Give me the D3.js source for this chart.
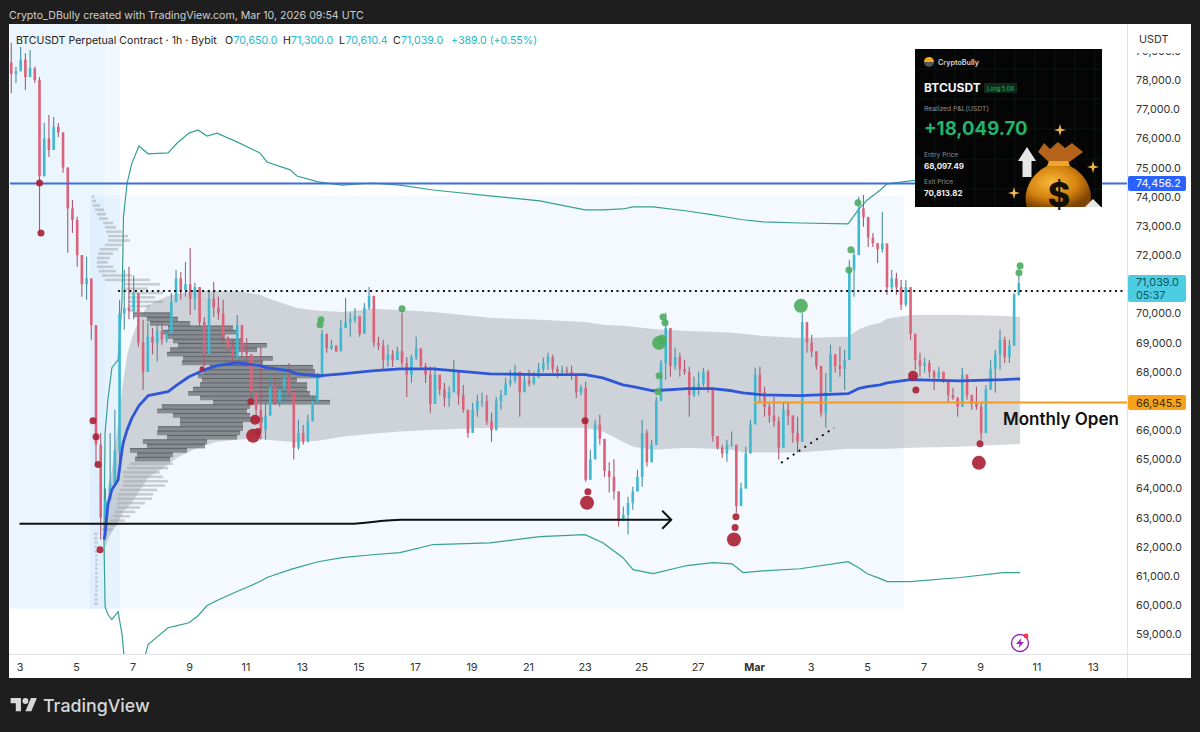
<!DOCTYPE html>
<html lang="en">
<head>
<meta charset="utf-8">
<script src="https://d3js.org/d3.v7.min.js"></script>
<style>
  html, body { margin: 0; padding: 0; background: #1e1e1e; }
  svg { display: block; font-family: Inter, "Noto Sans", sans-serif; }
</style>
</head>
<body>
<div id="chart"></div>
<script>
// prices in thousands of USDT, days counted from Feb 1 = 1 (so Mar 1 = 29)
const firstCandleDay = 2 + 17 / 24, candleStepHours = 4, firstOpen = 78.6;
const candleHigh = [
  79.27,78.45,79.13,78.92,79.03,78.45,78.1,76.53,76.8,76.73,
  76.53,76.22,75.0,73.89,73.31,71.8,71.94,71.0,68.75,65.9,
  64.0,65.9,66.7,70.47,71.5,71.6,71.3,70.0,69.78,69.68,
  69.5,69.6,69.68,69.44,70.7,71.49,71.42,71.77,72.25,71.05,
  70.91,69.88,70.81,71.08,70.57,70.47,69.2,69.1,69.95,69.1,
  69.16,68.41,67.28,68.85,67.04,67.96,67.9,67.73,68.17,68.3,
  67.28,66.36,66.18,66.53,67.14,67.96,69.44,69.1,69.1,68.9,
  69.78,70.53,70.02,70.19,69.85,70.36,70.91,70.47,69.2,69.1,
  68.93,68.75,68.86,70.02,68.51,68.58,69.2,68.51,68.3,68.17,
  68.17,67.9,67.62,67.5,68.41,67.9,67.55,66.6,66.94,67.21,
  67.28,67.21,66.6,67.14,67.38,67.8,68.07,68.24,67.83,67.9,
  68.07,68.0,68.3,68.48,68.65,68.58,68.21,68.21,68.17,68.21,
  67.73,67.55,67.66,65.33,66.36,66.53,65.67,64.9,65.0,63.86,
  63.38,63.72,64.06,64.64,66.36,66.01,65.67,67.14,68.41,70.02,
  68.75,68.82,68.65,68.41,68.17,67.83,68.0,68.14,68.07,67.28,
  65.67,65.5,65.67,65.95,65.43,64.2,65.43,66.36,68.14,68.17,
  67.49,66.94,67.14,66.46,66.94,66.94,66.46,66.46,70.02,69.54,
  69.27,68.51,68.17,67.96,68.93,68.51,68.86,68.75,71.84,72.18,
  74.0,74.06,73.31,72.76,72.42,73.48,72.28,71.49,71.39,71.15,
  71.15,70.7,69.1,68.65,68.48,68.41,68.07,68.17,68.0,67.62,
  67.45,67.14,68.14,67.73,67.21,67.49,66.94,67.55,68.41,68.75,
  69.44,69.2,69.1,70.7,71.3];
const candleLow = [
  77.55,77.9,78.34,77.66,78.34,77.9,72.76,74.82,75.36,75.84,
  76.05,74.82,72.08,72.76,71.6,70.57,70.47,69.1,64.75,62.25,
  62.6,63.6,64.75,64.64,69.44,69.8,69.8,68.86,67.38,68.17,
  68.6,68.35,68.93,69.0,69.34,70.37,70.47,70.57,69.95,70.12,
  69.54,68.17,69.44,69.88,69.78,69.0,68.65,68.3,68.51,68.51,
  68.17,67.04,66.46,65.67,65.67,66.8,66.87,66.8,66.94,67.14,
  64.99,65.33,65.5,66.01,66.36,66.94,67.96,68.65,68.75,68.68,
  69.0,69.54,69.2,69.68,69.2,69.78,70.12,68.86,68.75,68.07,
  68.17,68.17,68.41,68.17,67.14,67.62,68.41,68.07,67.62,66.6,
  67.28,67.2,66.8,66.8,67.38,66.87,66.6,65.74,66.08,66.46,
  66.8,66.18,65.6,66.26,66.7,67.28,67.5,67.62,66.46,67.38,
  67.5,67.55,67.9,68.0,68.07,67.97,67.8,67.9,67.9,67.73,
  67.11,67.2,64.23,64.3,65.15,65.5,64.4,63.86,63.62,62.7,
  62.93,62.42,63.27,64.06,64.06,64.75,65.2,65.67,67.14,67.73,
  67.83,68.07,67.83,67.9,66.46,67.14,67.2,67.5,67.28,65.6,
  65.33,65.05,64.92,65.43,63.17,63.45,64.2,65.23,66.25,66.94,
  66.46,66.25,66.12,64.99,65.78,66.18,65.57,65.23,66.36,68.65,
  68.51,68.07,66.46,66.08,67.49,67.97,67.83,67.38,68.65,70.57,
  72.18,72.97,72.28,72.28,71.73,72.08,70.64,70.81,70.64,70.12,
  70.23,69.1,68.07,67.83,67.97,67.8,67.38,67.73,67.62,66.94,
  67.04,66.46,67.14,67.04,66.7,66.7,65.67,65.9,67.38,67.28,
  68.07,68.3,68.3,69.34,70.61];
const candleClose = [
  78.2,78.3,78.7,78.1,78.4,78.0,74.7,76.0,75.6,76.4,
  76.2,75.0,73.6,73.2,72.0,71.0,71.2,69.6,65.5,63.0,
  63.6,64.2,65.3,70.0,70.2,70.1,70.7,69.0,68.0,69.2,
  69.0,69.4,69.1,69.3,70.4,71.2,70.8,71.0,70.5,70.9,
  69.7,68.6,70.5,70.2,70.0,69.2,68.8,68.5,69.6,68.7,
  68.6,67.3,66.7,66.0,66.5,67.5,67.0,67.4,67.8,67.3,
  65.4,65.9,65.6,66.3,67.0,67.8,69.3,68.8,68.9,68.7,
  69.5,69.7,69.8,69.9,69.3,70.2,70.6,69.0,68.9,68.4,
  68.6,68.4,68.7,68.3,67.9,68.5,68.8,68.2,67.9,66.9,
  67.9,67.4,67.1,67.3,68.0,67.2,66.7,65.9,66.7,67.0,
  67.0,66.3,66.0,67.0,67.2,67.6,67.7,68.0,67.3,67.7,
  67.6,67.8,68.1,68.3,68.5,68.1,68.0,68.05,68.0,67.9,
  67.3,67.45,64.3,65.0,66.2,65.7,64.6,64.4,63.9,62.9,
  63.1,63.5,63.9,64.4,65.9,64.9,65.5,67.0,68.3,69.5,
  68.2,68.5,68.1,68.0,67.2,67.5,67.6,68.0,67.4,65.8,
  65.4,65.2,65.5,65.5,63.4,64.0,65.2,66.2,67.9,67.3,
  66.8,66.5,66.3,65.4,66.7,66.5,65.9,65.6,69.7,69.0,
  68.7,68.2,66.6,67.3,68.6,68.2,68.1,68.4,71.5,72.0,
  73.6,73.3,72.6,72.4,72.2,72.4,70.9,71.2,70.9,70.3,
  70.9,69.3,68.4,68.2,68.3,68.0,67.8,68.0,67.7,67.2,
  67.1,66.8,67.9,67.2,66.9,66.8,65.9,67.4,68.1,68.6,
  69.1,68.5,68.9,70.65,71.039];

// anchored VWAP and its bands, all sampled on the same days
const bandDays = [5.99,6.03,6.13,6.27,6.49,6.63,6.68,6.81,6.98,7.23,7.55,8.26,8.58,9.0,9.32,9.64,9.99,10.7,11.51,11.76,12.58,12.82,13.57,14.42,15.48,16.47,17.64,19.65,21.42,23.02,23.65,24.36,24.72,25.43,26.63,27.55,28.22,28.61,29.32,30.63,32.33,32.69,33.01,33.47,33.71,34.53,36.3,37.82,38.42];
const vwap = [62.25,62.42,63.45,63.96,64.3,65.33,65.6,66.01,66.42,66.84,67.18,67.32,67.55,67.83,67.97,68.1,68.21,68.31,68.21,68.14,68.03,67.93,67.86,67.93,68.03,68.1,68.1,67.93,67.9,67.9,67.79,67.55,67.49,67.35,67.42,67.42,67.35,67.28,67.21,67.18,67.25,67.42,67.49,67.55,67.62,67.73,67.69,67.73,67.76];
const innerUpper = [62.25,62.59,63.96,64.64,66.18,67.38,67.73,68.58,69.16,69.78,70.29,70.6,70.67,70.74,70.77,70.77,70.77,70.77,70.64,70.53,70.26,70.19,70.09,70.05,70.16,70.12,70.05,69.85,69.78,69.71,69.61,69.58,69.54,69.47,69.4,69.37,69.34,69.3,69.23,69.16,69.2,69.44,69.58,69.68,69.82,69.95,69.95,69.92,69.88];
const innerLower = [62.25,61.97,62.25,62.52,62.86,63.1,63.21,63.34,63.51,63.89,64.37,64.82,65.05,65.26,65.4,65.5,65.6,65.67,65.71,65.67,65.6,65.6,65.64,65.77,65.88,65.95,66.01,66.08,66.08,66.08,65.95,65.6,65.43,65.33,65.4,65.36,65.33,65.23,65.23,65.23,65.36,65.36,65.36,65.36,65.36,65.4,65.43,65.5,65.53];
const outerUpper = [62.25,65.91,67.04,68.14,68.41,70.47,73.31,74.47,75.16,75.74,75.47,75.5,75.84,76.18,76.29,76.08,76.18,75.88,75.5,75.19,74.92,74.71,74.51,74.4,74.47,74.4,74.23,74.03,73.86,73.55,73.55,73.58,73.65,73.65,73.51,73.38,73.27,73.21,73.14,73.1,73.07,73.55,73.89,74.23,74.44,74.54,74.71,74.85,74.88];
const outerLower = [62.25,59.95,59.68,59.51,59.78,58.99,58.48,56.77,56.77,57.45,58.65,59.23,59.3,59.4,59.64,59.99,60.16,60.47,60.81,60.95,61.22,61.29,61.49,61.63,61.73,61.8,62.08,62.14,62.35,62.42,62.14,61.63,61.22,61.08,61.36,61.46,61.42,61.12,61.18,61.25,61.49,61.29,61.08,60.91,60.81,60.81,60.95,61.12,61.12];

// volume profile rows: price of the row, and the days its bar runs between
const profilePrice = [74.0,73.85,73.7,73.55,73.4,73.25,73.1,72.95,72.8,72.65,72.5,72.35,72.2,72.05,71.9,71.75,71.6,71.45,71.3,71.15,71.0,70.85,70.7,70.55,70.4,70.25,70.1,69.95,69.8,69.65,69.5,69.35,69.2,69.05,68.9,68.75,68.6,68.45,68.3,68.15,68.0,67.85,67.7,67.55,67.4,67.25,67.1,66.95,66.8,66.65,66.5,66.35,66.2,66.05,65.9,65.75,65.6,65.45,65.3,65.15,65.0,64.85,64.7,64.55,64.4,64.25,64.1,63.95,63.8,63.65,63.5,63.35,63.2,63.05,62.9,62.75,62.6,62.45,62.3,62.15,62.0,61.85,61.7,61.55,61.4,61.25,61.1,60.95,60.8,60.65,60.5,60.35,60.2,60.05];
const profileFrom = [5.57,5.57,5.6,5.67,5.74,5.81,5.96,6.03,6.06,6.13,6.13,6.03,5.85,5.78,5.74,5.74,5.74,5.81,5.92,6.03,6.73,6.73,6.84,6.84,6.84,6.84,6.84,7.02,7.51,7.62,8.26,8.08,8.22,8.43,8.61,8.33,8.22,8.79,8.75,9.74,9.5,9.32,9.46,9.39,9.14,8.97,9.39,9.85,8.04,7.87,8.43,8.68,8.68,7.9,7.87,8.22,7.37,7.51,6.91,7.16,7.09,6.91,6.81,6.66,6.66,6.66,6.66,6.56,6.49,6.45,6.45,6.45,6.38,6.31,6.2,5.96,5.92,5.64,5.64,5.66,5.66,5.66,5.68,5.68,5.68,5.68,5.68,5.68,5.68,5.68,5.68,5.66,5.66,5.66];
const profileTo = [5.64,5.71,5.85,5.99,6.06,6.13,6.31,6.42,6.63,6.84,6.91,6.63,6.49,6.31,6.2,6.13,6.31,6.42,6.98,7.62,7.97,7.55,8.08,7.8,8.08,7.62,7.27,8.33,8.61,9.04,10.56,10.7,10.27,10.91,11.76,11.41,10.7,11.97,11.62,13.39,13.46,13.64,12.82,13.18,13.18,13.28,13.53,13.99,11.16,11.05,11.16,11.62,10.91,10.91,10.81,10.7,9.64,9.57,8.93,8.43,8.33,8.43,8.26,7.97,8.08,8.26,8.15,7.87,7.73,7.69,7.44,7.27,7.09,6.91,6.73,6.45,6.31,5.76,5.76,5.76,5.76,5.76,5.76,5.76,5.76,5.76,5.76,5.76,5.76,5.76,5.76,5.76,5.76,5.76];
const valueAreaHigh = 69.95, valueAreaLow = 65.0;

// pivot bubbles, strength 1..3 picks the radius
const redDotDay = [3.71,3.76,5.6,5.71,5.78,5.85,9.46,11.19,11.34,11.27,11.44,23.02,23.12,23.09,28.36,28.33,28.29,34.63,34.73,37.0,36.96];
const redDotPrice = [74.47,72.76,66.32,65.77,64.82,61.9,68.1,66.97,66.36,65.81,65.95,66.32,63.89,63.51,63.03,62.66,62.25,67.86,67.38,65.53,64.88];
const redDotStrength = [1,1,1,1,1,1,0,1,2,3,1,1,1,3,1,1,3,2,1,1,3];
const greenDotDay = [13.67,13.64,16.54,25.78,25.85,25.64,25.74,25.64,25.6,30.66,32.68,32.43,32.36,38.42,38.38];
const greenDotPrice = [69.78,69.61,70.16,69.88,69.68,68.99,69.1,67.86,67.32,70.26,73.79,72.18,71.49,71.63,71.39];
const greenDotStrength = [1,1,1,1,1,3,2,1,1,3,1,1,1,1,1];

// drawn levels and annotations
const resistance = 74.4562, monthlyOpen = 66.9455, lastPrice = 71.039, pocLevel = 70.77;
const monthlyOpenDay = 29, pocStartDay = 6.49;
const arrowDay = [3.0,14.7,16.0,16.5,26.07], arrowPrice = [62.79,62.79,62.9,62.93,62.93];
const trendDay = [29.96,31.83], trendPrice = [64.88,66.08];

// axis labels
const priceTicks = d3.range(59, 80);
const dayTicks = [3,5,7,9,11,13,15,17,19,21,23,25,27,29,31,33,35,37,39,41];
const dayLabels = ["3","5","7","9","11","13","15","17","19","21","23","25","27","Mar","3","5","7","9","11","13"];

const width = 1200, height = 732;
const panel = { left: 9, right: 1191, top: 24, bottom: 678 };
const plot = { left: 10, right: 1127, top: 24, bottom: 654 };
const labelSize = 10.8;

const toDate = d => new Date(Date.UTC(2026, 1, 1) + (d - 1) * 864e5);
const x = d3.scaleUtc().domain([toDate(3), toDate(43)]).range([19.5, 1149.5]);
const y = d3.scaleLinear().domain([59, 78]).range([634.4, 80]);
const X = d => x(toDate(d));

const svg = d3.select("#chart").append("svg").attr("width", width).attr("height", height);

svg.append("rect").attr("width", width).attr("height", height).attr("fill", "#1e1e1e");
svg.append("rect").attr("x", panel.left).attr("y", panel.top)
  .attr("width", panel.right - panel.left).attr("height", panel.bottom - panel.top).attr("fill", "#fff");

svg.append("text").attr("x", 9).attr("y", 19).attr("fill", "#cfcfcf").attr("font-size", 10.6)
  .text("Crypto_DBully created with TradingView.com, Mar 10, 2026 09:54 UTC");

svg.append("defs").append("clipPath").attr("id", "plot-clip").append("rect")
  .attr("x", plot.left).attr("y", plot.top)
  .attr("width", plot.right - plot.left).attr("height", plot.bottom - plot.top);

const g = svg.append("g").attr("clip-path", "url(#plot-clip)");

// shaded date ranges
const zones = [
  { from: 2.6, to: 6.56, hi: 80, lo: 59.88, a: 0.06 },
  { from: 2.6, to: 6.03, hi: 80, lo: 59.88, a: 0.035 },
  { from: 5.5, to: 34.31, hi: 74.05, lo: 59.88, a: 0.055 }
];
g.selectAll("rect.zone").data(zones).join("rect").attr("class", "zone")
  .attr("x", d => X(d.from)).attr("width", d => X(d.to) - X(d.from))
  .attr("y", d => y(d.hi)).attr("height", d => y(d.lo) - y(d.hi))
  .attr("fill", "#2196f3").attr("fill-opacity", d => d.a);

// inner band
const bandArea = d3.area().x((d, i) => X(bandDays[i])).y0((d, i) => y(innerLower[i])).y1((d, i) => y(innerUpper[i]));
g.append("path").attr("d", bandArea(bandDays)).attr("fill", "#787b86").attr("fill-opacity", 0.3);

// volume profile
const profile = profilePrice.map((p, i) => ({ p, from: profileFrom[i], to: profileTo[i] }));
const inValueArea = d => d.p <= valueAreaHigh && d.p >= valueAreaLow;
g.selectAll("rect.vp").data(profile).join("rect").attr("class", "vp")
  .attr("x", d => X(d.from)).attr("width", d => X(d.to) - X(d.from))
  .attr("y", d => y(d.p) - (inValueArea(d) ? 2.2 : 1.3)).attr("height", d => inValueArea(d) ? 4.4 : 2.6)
  .attr("fill", d => inValueArea(d) ? "#6a6d72" : "#a0a3a8")
  .attr("fill-opacity", d => inValueArea(d) ? 0.7 : 0.5);
g.selectAll("line.vp").data(profile.filter(inValueArea)).join("line").attr("class", "vp")
  .attr("x1", d => X(d.from)).attr("x2", d => X(d.to))
  .attr("y1", d => y(d.p) - 2).attr("y2", d => y(d.p) - 2)
  .attr("stroke", "#3d3f44").attr("stroke-width", 0.6);

// outer band lines
const seriesLine = values => d3.line().x((d, i) => X(bandDays[i])).y((d, i) => y(values[i]))(bandDays);
[outerUpper, outerLower].forEach(values => {
  g.append("path").attr("d", seriesLine(values)).attr("fill", "none")
    .attr("stroke", "#35a192").attr("stroke-width", 1.2);
});

// candles
const candles = candleClose.map((c, i) => ({
  day: firstCandleDay + i * candleStepHours / 24,
  open: i ? candleClose[i - 1] : firstOpen,
  close: c, high: candleHigh[i], low: candleLow[i]
}));
const isUp = d => d.close >= d.open;
const cg = g.append("g");
cg.selectAll("line").data(candles).join("line")
  .attr("x1", d => X(d.day)).attr("x2", d => X(d.day))
  .attr("y1", d => y(Math.max(d.high, d.open, d.close)))
  .attr("y2", d => y(Math.min(d.low, d.open, d.close)))
  .attr("stroke", d => isUp(d) ? "#4b8ea3" : "#a85a70").attr("stroke-width", 1.1);
cg.selectAll("rect").data(candles).join("rect")
  .attr("x", d => X(d.day) - 1.3).attr("width", 2.6)
  .attr("y", d => y(Math.max(d.open, d.close)))
  .attr("height", d => Math.max(0.8, Math.abs(y(d.open) - y(d.close))))
  .attr("fill", d => isUp(d) ? "#3fb9cf" : "#dc6279");

// VWAP on top of the candles
g.append("path").attr("d", seriesLine(vwap)).attr("fill", "none")
  .attr("stroke", "#2f56d6").attr("stroke-width", 2.8).attr("stroke-linejoin", "round");

// horizontal levels
const levels = g.append("g");
levels.append("line").attr("x1", X(pocStartDay)).attr("x2", plot.right - 2)
  .attr("y1", y(pocLevel)).attr("y2", y(pocLevel))
  .attr("stroke", "#111").attr("stroke-width", 2).attr("stroke-dasharray", "2 3.6");
levels.append("line").attr("x1", plot.left).attr("x2", plot.right)
  .attr("y1", y(resistance)).attr("y2", y(resistance))
  .attr("stroke", "#3b6fdc").attr("stroke-width", 2);
levels.append("line").attr("x1", X(monthlyOpenDay)).attr("x2", plot.right)
  .attr("y1", y(monthlyOpen)).attr("y2", y(monthlyOpen))
  .attr("stroke", "#f59a23").attr("stroke-width", 2);

// trend dots
g.append("path")
  .attr("d", d3.line().x((d, i) => X(trendDay[i])).y((d, i) => y(trendPrice[i]))(trendDay))
  .attr("stroke", "#111").attr("stroke-width", 2).attr("stroke-dasharray", "2 5").attr("fill", "none");

// arrow
const arrowLine = d3.line().curve(d3.curveMonotoneX).x((d, i) => X(arrowDay[i])).y((d, i) => y(arrowPrice[i]));
g.append("path").attr("d", arrowLine(arrowDay)).attr("fill", "none").attr("stroke", "#111").attr("stroke-width", 2);
const tipX = X(arrowDay[arrowDay.length - 1]), tipY = y(arrowPrice[arrowPrice.length - 1]);
g.append("path").attr("d", `M${tipX - 9},${tipY - 9}L${tipX},${tipY}L${tipX - 9},${tipY + 9}`)
  .attr("fill", "none").attr("stroke", "#111").attr("stroke-width", 2);

// bubbles
const radius = d3.scaleOrdinal().domain([0, 1, 2, 3]).range([2.5, 3.5, 5, 7]);
const bubbles = (days, prices, strength, color) => {
  g.append("g").selectAll("circle").data(days).join("circle")
    .attr("cx", d => X(d)).attr("cy", (d, i) => y(prices[i]))
    .attr("r", (d, i) => radius(strength[i])).attr("fill", color).attr("fill-opacity", 0.92);
};
bubbles(redDotDay, redDotPrice, redDotStrength, "#ab2337");
bubbles(greenDotDay, greenDotPrice, greenDotStrength, "#4fae63");

g.append("text").attr("x", 1003).attr("y", 425).attr("font-size", 17).attr("font-weight", 600)
  .attr("fill", "#111").text("Monthly Open");

// price axis
svg.append("line").attr("x1", plot.right + 0.5).attr("x2", plot.right + 0.5)
  .attr("y1", plot.top).attr("y2", panel.bottom).attr("stroke", "#e0e3eb");
const yAxis = svg.append("g").attr("transform", `translate(${plot.right},0)`)
  .call(d3.axisRight(y).tickValues(priceTicks).tickSize(0).tickPadding(9)
    .tickFormat(d => d3.format(",.1f")(d * 1000)));
yAxis.select(".domain").remove();
yAxis.selectAll("text").attr("font-family", "Inter, sans-serif").attr("font-size", labelSize).attr("fill", "#333");

svg.append("rect").attr("x", 1130).attr("y", 25).attr("width", 58).attr("height", 28).attr("rx", 4).attr("fill", "#fff");
svg.append("text").attr("x", 1139).attr("y", 43).attr("font-size", labelSize).attr("fill", "#333").text("USDT");

// time axis
svg.append("line").attr("x1", panel.left).attr("x2", panel.right)
  .attr("y1", plot.bottom + 0.5).attr("y2", plot.bottom + 0.5).attr("stroke", "#e0e3eb");
const xAxis = svg.append("g").attr("transform", `translate(0,${plot.bottom})`)
  .call(d3.axisBottom(x).tickValues(dayTicks.map(toDate)).tickSize(0).tickPadding(9)
    .tickFormat((d, i) => dayLabels[i]));
xAxis.select(".domain").remove();
xAxis.selectAll("text").attr("font-family", "Inter, sans-serif").attr("font-size", labelSize).attr("fill", "#333")
  .attr("font-weight", (d, i) => dayLabels[i] === "Mar" ? 700 : 400);

// axis price tags
const tags = [
  { value: resistance, fill: "#2962ff", text: "#fff", h: 15, label: "74,456.2" },
  { value: monthlyOpen, fill: "#f7a21b", text: "#3a2a00", h: 15, label: "66,945.5" }
];
tags.forEach(t => {
  svg.append("rect").attr("x", plot.right + 1).attr("y", y(t.value) - t.h / 2).attr("width", 58).attr("height", t.h)
    .attr("rx", 2).attr("fill", t.fill);
  svg.append("text").attr("x", plot.right + 9).attr("y", y(t.value) + 4).attr("font-size", labelSize)
    .attr("fill", t.text).text(t.label);
});
svg.append("rect").attr("x", plot.right + 1).attr("y", y(lastPrice) - 8).attr("width", 58).attr("height", 27)
  .attr("rx", 2).attr("fill", "#4ccde2");
svg.append("text").attr("x", plot.right + 9).attr("y", y(lastPrice) + 3.2).attr("font-size", labelSize)
  .attr("fill", "#0f5563").text("71,039.0");
svg.append("text").attr("x", plot.right + 9).attr("y", y(lastPrice) + 16).attr("font-size", labelSize)
  .attr("fill", "#0f5563").text("05:37");

// legend line
const legend = svg.append("g").attr("font-size", 10.6);
const legendParts = [
  [16, "BTCUSDT Perpetual Contract · 1h · Bybit", "#222"],
  [225, "O", "#222"], [233.5, "70,650.0", "#24b6c9"],
  [283, "H", "#222"], [291, "71,300.0", "#24b6c9"],
  [339, "L", "#222"], [345.5, "70,610.4", "#24b6c9"],
  [393, "C", "#222"], [401, "71,039.0", "#24b6c9"],
  [451, "+389.0 (+0.55%)", "#24b6c9"]
];
legend.selectAll("text").data(legendParts).join("text")
  .attr("x", d => d[0]).attr("y", 44).attr("fill", d => d[2]).text(d => d[1]);

// lightning icon
const bolt = svg.append("g").attr("transform", "translate(1020,643)");
bolt.append("circle").attr("r", 8.5).attr("fill", "#fff").attr("stroke", "#9c27b0").attr("stroke-width", 1.4);
bolt.append("path").attr("d", "M1.5,-5L-4,1H-0.5L-1.5,5L4,-1H0.5Z").attr("fill", "#9c27b0");
bolt.append("circle").attr("cx", 6).attr("cy", -7).attr("r", 2.4).attr("fill", "#f23645");

// P&L card pasted over the chart
const card = svg.append("g").attr("transform", "translate(915,49)");
const defs = svg.select("defs");
const gold = defs.append("radialGradient").attr("id", "gold").attr("cx", "40%").attr("cy", "40%").attr("r", "65%");
gold.append("stop").attr("offset", "0%").attr("stop-color", "#f7b93a");
gold.append("stop").attr("offset", "60%").attr("stop-color", "#d4820f");
gold.append("stop").attr("offset", "100%").attr("stop-color", "#7e4306");
card.append("rect").attr("width", 187).attr("height", 158).attr("fill", "#050505");
const cardGrid = card.append("g").attr("stroke", "#123021").attr("stroke-width", 0.6).attr("opacity", 0.7);
[20, 40, 60, 80, 100, 120, 140, 160, 180].forEach(v => {
  cardGrid.append("line").attr("x1", v).attr("x2", v).attr("y1", 0).attr("y2", 158);
});
[20, 50, 80, 110, 140].forEach(v => {
  cardGrid.append("line").attr("x1", 0).attr("x2", 187).attr("y1", v).attr("y2", v);
});
card.append("circle").attr("cx", 14).attr("cy", 13).attr("r", 5).attr("fill", "#555");
card.append("path").attr("d", "M9,13A5,5 0 0 1 19,13Z").attr("fill", "#f1a91e");
const cardText = (tx, ty, size, weight, fill, s) => card.append("text").attr("x", tx).attr("y", ty)
  .attr("font-size", size).attr("font-weight", weight).attr("fill", fill).text(s);
cardText(23, 16, 7.2, 600, "#d5d5d5", "CryptoBully");
card.append("rect").attr("x", 69).attr("y", 34).attr("width", 33).attr("height", 10).attr("fill", "#0f2a1c");
cardText(72, 41.5, 5.6, 500, "#27a866", "Long 5.0X");
cardText(9, 43, 12, 700, "#f4f4f4", "BTCUSDT");
cardText(9, 62, 6.8, 400, "#8f8f8f", "Realized P&L(USDT)");
cardText(9, 86, 18.6, 700, "#22b36c", "+18,049.70");
cardText(9, 108, 6.6, 400, "#8f8f8f", "Entry Price");
cardText(9, 120, 8, 700, "#f0f0f0", "68,097.49");
cardText(9, 135, 6.6, 400, "#8f8f8f", "Exit Price");
cardText(9, 147, 8, 700, "#f0f0f0", "70,813.82");
// white arrow, money bag, sparkles
card.append("path").attr("d", "M112,98L121,112H116.5V128H107.5V112H103Z").attr("fill", "#e6e6e6");
card.append("path").attr("d", "M123,103L129,94L135,100L143,93L150,99L157,94L168,103L153,114H135Z").attr("fill", "#b5621a");
card.append("path").attr("d", "M134,112H153L155,117H132Z").attr("fill", "#e9a82d");
card.append("path").attr("d", "M132,117C115,125 107,145 112,158H174C180,145 172,125 155,117Z").attr("fill", "url(#gold)");
card.append("text").attr("x", 144).attr("y", 158).attr("text-anchor", "middle").attr("font-size", 34)
  .attr("font-weight", 800).attr("fill", "#141005").text("$");
card.append("path").attr("d", "M170,158L178,150L186,158Z").attr("fill", "#e8e8e8");
[[145, 81], [178, 118], [99, 144]].forEach(p => {
  card.append("path").attr("transform", `translate(${p[0]},${p[1]})`)
    .attr("d", "M0,-6L1.3,-1.3L6,0L1.3,1.3L0,6L-1.3,1.3L-6,0L-1.3,-1.3Z").attr("fill", "#f5b74a");
});

// TradingView footer
const logo = svg.append("g").attr("transform", "translate(10.6,695) scale(0.74)").attr("fill", "#d8d8d8");
logo.append("path").attr("d", "M14 22H7V11H0V4h14v18zM28 22h-8l7.5-18h8L28 22z");
logo.append("circle").attr("cx", 20).attr("cy", 8).attr("r", 4);
svg.append("text").attr("x", 43).attr("y", 711.5).attr("font-size", 17.8).attr("font-weight", 500)
  .attr("fill", "#d8d8d8").text("TradingView");
</script>
</body>
</html>
